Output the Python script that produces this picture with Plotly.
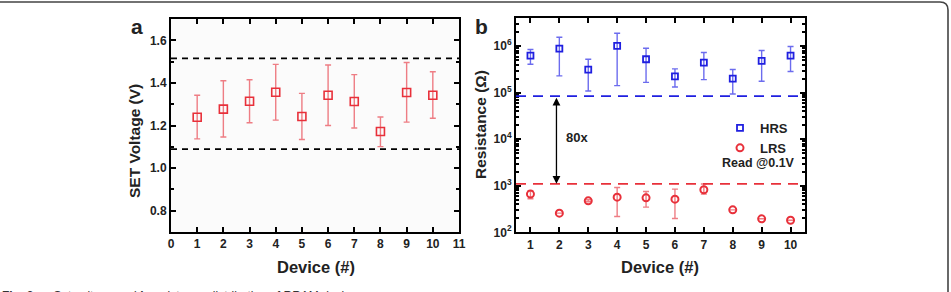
import plotly.graph_objects as go
import numpy as np

W, H = 951, 292

# ---------------- data ----------------
devices_a = [1, 2, 3, 4, 5, 6, 7, 8, 9, 10]
set_v = [1.239, 1.277, 1.314, 1.356, 1.242, 1.342, 1.313, 1.172, 1.355, 1.342]
set_v_hi = [1.342, 1.410, 1.415, 1.487, 1.351, 1.484, 1.439, 1.240, 1.496, 1.452]
set_v_lo = [1.137, 1.146, 1.213, 1.225, 1.134, 1.200, 1.188, 1.101, 1.216, 1.234]
set_bounds = [1.515, 1.089]

devices_b = [1, 2, 3, 4, 5, 6, 7, 8, 9, 10]
hrs = [6.3e5, 8.9e5, 3.15e5, 1.02e6, 5.25e5, 2.25e5, 4.46e5, 2.01e5, 4.84e5, 6.3e5]
hrs_hi = [8.5e5, 1.56e6, 5.25e5, 1.9e6, 9.06e5, 3.26e5, 7.3e5, 3.15e5, 8.07e5, 9.84e5]
hrs_lo = [4.09e5, 2.3e5, 1.09e5, 1.42e5, 1.67e5, 1.33e5, 1.91e5, 9.4e4, 1.76e5, 2.85e5]
lrs = [662, 258, 475, 570, 551, 516, 820, 304, 195, 182]
lrs_hi = [780, 258, 500, 918, 755, 847, 1089, 304, 195, 182]
lrs_lo = [525, 258, 455, 218, 348, 198, 662, 304, 195, 182]
hrs_min_line = 8.45e4
lrs_max_line = 1.1e3

x_ticks_a = list(range(0, 12))
y_ticks_a = [0.8, 1.0, 1.2, 1.4, 1.6]
x_ticks_b = list(range(1, 11))
y_ticks_b = [1e2, 1e3, 1e4, 1e5, 1e6]
y_ticktext_b = ["10<sup>2</sup>", "10<sup>3</sup>", "10<sup>4</sup>", "10<sup>5</sup>", "10<sup>6</sup>"]

# ---------------- helpers ----------------
def px(x):
    return x / W

def py(y):
    return 1 - y / H

FONT = "Liberation Sans, Arial, sans-serif"
TXT = "#222222"
RED = "#e8303a"
RED_ERR = "#ee7d84"
BLUE = "#1f1fe0"
BLUE_ERR = "#6c6cee"

fig = go.Figure()

# ---------------- panel a ----------------
fig.add_trace(go.Scatter(
    x=devices_a, y=set_v, mode="markers", showlegend=False,
    marker=dict(symbol="square-open", size=8, color=RED, line=dict(width=1.6, color=RED)),
    error_y=dict(type="data", symmetric=False,
                 array=[h - c for h, c in zip(set_v_hi, set_v)],
                 arrayminus=[c - l for l, c in zip(set_v_lo, set_v)],
                 color=RED_ERR, thickness=1.4, width=3),
    xaxis="x", yaxis="y"))

for b in set_bounds:
    fig.add_shape(type="line", xref="x", yref="y", x0=0, x1=11, y0=b, y1=b,
                  line=dict(color="black", width=1.6, dash="6px,5px"))

# ---------------- panel b ----------------
fig.add_trace(go.Scatter(
    x=devices_b, y=hrs, mode="markers", name="HRS",
    marker=dict(symbol="square-open", size=6, color=BLUE, line=dict(width=1.8, color=BLUE)),
    error_y=dict(type="data", symmetric=False,
                 array=[h - c for h, c in zip(hrs_hi, hrs)],
                 arrayminus=[c - l for l, c in zip(hrs_lo, hrs)],
                 color=BLUE_ERR, thickness=1.4, width=3),
    xaxis="x2", yaxis="y2"))

fig.add_trace(go.Scatter(
    x=devices_b, y=lrs, mode="markers", name="LRS",
    marker=dict(symbol="circle-open", size=7, color=RED, line=dict(width=2, color=RED)),
    error_y=dict(type="data", symmetric=False,
                 array=[h - c for h, c in zip(lrs_hi, lrs)],
                 arrayminus=[c - l for l, c in zip(lrs_lo, lrs)],
                 color=RED_ERR, thickness=1.4, width=3),
    xaxis="x2", yaxis="y2"))

fig.add_shape(type="line", xref="x2 domain", yref="y2", x0=0, x1=1,
              y0=hrs_min_line, y1=hrs_min_line,
              line=dict(color=BLUE, width=1.8, dash="10px,7px"))
fig.add_shape(type="line", xref="x2 domain", yref="y2", x0=0, x1=1,
              y0=lrs_max_line, y1=lrs_max_line,
              line=dict(color=RED, width=1.8, dash="10px,7px"))

# double-headed arrow between the two bounds
arrow_x = 1.9
fig.add_annotation(x=arrow_x, y=np.log10(lrs_max_line), ax=arrow_x, ay=np.log10(hrs_min_line),
                   xref="x2", yref="y2", axref="x2", ayref="y2", text="", showarrow=True,
                   arrowside="end+start", arrowhead=2, startarrowhead=2,
                   arrowsize=1.2, startarrowsize=1.2, arrowwidth=1.3, arrowcolor="black",
                   standoff=0, startstandoff=0)

fig.add_annotation(x=2.6, y=4.04, xref="x2", yref="y2", text="<b>80x</b>",
                   showarrow=False, font=dict(family=FONT, size=13, color=TXT))
fig.add_annotation(x=px(797), y=py(163), xref="paper", yref="paper",
                   xanchor="right", yanchor="middle", text="<b>Read @0.1V</b>",
                   showarrow=False, font=dict(family=FONT, size=12.5, color=TXT))

# ---------------- axes ----------------
axis_common = dict(showline=True, linecolor="black", linewidth=2, mirror="ticks",
                   ticks="inside", ticklen=5, tickwidth=1.8, tickcolor="black",
                   showgrid=False, zeroline=False, automargin=False,
                   tickfont=dict(family=FONT, size=12, color=TXT, weight="bold"))

fig.update_layout(
    width=W, height=H,
    margin=dict(l=0, r=0, t=0, b=0),
    paper_bgcolor="white", plot_bgcolor="#fbfbfb",
    xaxis=dict(domain=[px(171), px(459)], range=[0, 11], tickvals=x_ticks_a,
               anchor="y", **axis_common),
    yaxis=dict(domain=[py(232), py(19)], range=[0.7, 1.7], tickvals=y_ticks_a,
               tickformat=".1f", anchor="x",
               minor=dict(ticks="inside", ticklen=3, tickcolor="black", dtick=0.1, tick0=0.7),
               **axis_common),
    xaxis2=dict(domain=[px(516), px(805)], range=[0.5, 10.5], tickvals=x_ticks_b,
                anchor="y2", **axis_common),
    yaxis2=dict(domain=[py(232.3), py(18.3)], type="log", range=[2, 6.6],
                tickvals=y_ticks_b, ticktext=y_ticktext_b, anchor="x2",
                minor=dict(ticks="inside", ticklen=3, tickcolor="black", dtick="D1"),
                **axis_common),
    showlegend=True,
    legend=dict(x=px(720), y=py(113), xanchor="left", yanchor="top",
                bgcolor="rgba(0,0,0,0)", borderwidth=0, tracegroupgap=0,
                itemwidth=30,
                font=dict(family=FONT, size=13, color=TXT, weight="bold")),
)

# plot b background white
fig.add_shape(type="rect", xref="x2 domain", yref="y2 domain", x0=0, x1=1, y0=0, y1=1,
              fillcolor="white", line=dict(width=0), layer="below")

# ---------------- titles / labels ----------------
def label(x, y, text, size, angle=0):
    fig.add_annotation(x=px(x), y=py(y), xref="paper", yref="paper", text=text,
                       showarrow=False, textangle=angle, xanchor="center", yanchor="middle",
                       font=dict(family=FONT, size=size, color=TXT))

label(137, 26, "<b>a</b>", 21)
label(482, 26, "<b>b</b>", 21)
label(134, 141, "<b>SET Voltage (V)</b>", 15.5, -90)
label(480, 125, "<b>Resistance (Ω)</b>", 15.5, -90)
label(316, 267, "<b>Device (#)</b>", 16.5)
label(660, 267, "<b>Device (#)</b>", 16.5)

# caption (cut off by the page edge, as in the reference)
fig.add_annotation(x=0, y=py(287), xref="paper", yref="paper", xanchor="left", yanchor="top",
                   text="<b>Fig. 3</b>   <b>a</b> Set voltage and <b>b</b> resistance distribution of RRAM devices",
                   showarrow=False, font=dict(family=FONT, size=12, color="#333333"))

# outer frame with rounded corner on the right
fig.add_shape(type="path", xref="paper", yref="paper",
              path=f"M 0 {py(2)} L {px(940)} {py(2)} Q {px(948)} {py(2)} {px(948)} {py(10)} L {px(948)} {py(300)}",
              line=dict(color="#444444", width=1.6))

fig.write_html("out.html")
